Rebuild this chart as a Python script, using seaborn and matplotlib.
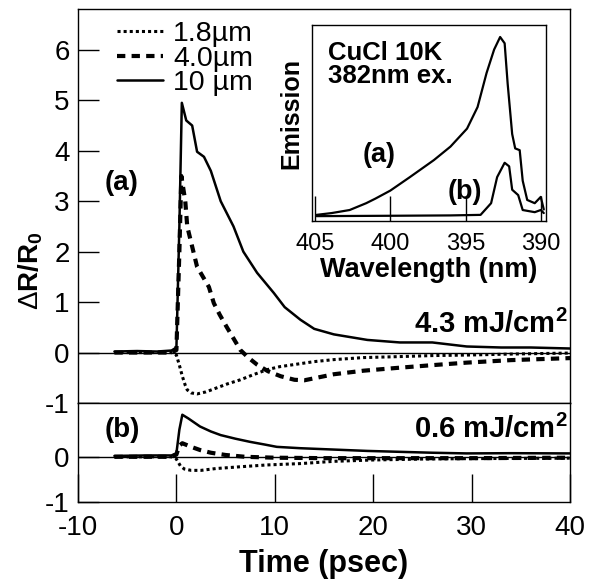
import matplotlib
matplotlib.use("Agg")
import matplotlib.pyplot as plt
import seaborn as sns

sns.set_theme(style="white")
plt.rcParams.update({
    'font.family': ['Liberation Sans', 'DejaVu Sans'],
    'mathtext.fontset': 'custom',
    'mathtext.rm': 'Liberation Sans',
    'mathtext.bf': 'Liberation Sans:bold',
    'axes.unicode_minus': False,
    'axes.edgecolor': 'black',
    'axes.labelcolor': 'black',
    'axes.linewidth': 1.0,
    'xtick.color': 'black',
    'ytick.color': 'black',
    'xtick.bottom': True,
    'ytick.left': True,
    'xtick.direction': 'in',
    'ytick.direction': 'in',
    'xtick.major.size': 15,
    'ytick.major.size': 15,
    'xtick.major.width': 1.0,
    'ytick.major.width': 1.0,
    'text.color': 'black',
})

# ---- panel (a): 4.3 mJ/cm2 ----
t_a_10 = [-6.3, -4, -2, -0.5, 0.0, 0.3, 0.55, 1.0, 1.3, 1.6, 2.1, 2.8, 3.5, 4.5, 5.8, 6.8, 8.2, 9.9,
          11.0, 12.6, 14.0, 16.0, 19.4, 22.7, 26.0, 29.5, 33.0, 36.0, 40.0]
y_a_10 = [0.02, 0.03, 0.02, 0.04, 0.1, 2.5, 4.95, 4.6, 4.55, 4.5, 3.98, 3.88, 3.6, 3.0, 2.5, 2.0, 1.58, 1.18,
          0.9, 0.65, 0.47, 0.36, 0.25, 0.2, 0.2, 0.12, 0.1, 0.1, 0.08]

t_a_40 = [-6.3, -3, -0.5, 0.0, 0.3, 0.5, 0.9, 1.1, 1.6, 2.1, 2.7, 3.3, 3.8, 4.4, 5.1, 5.8, 6.5, 7.3, 8.2,
          9.3, 10.6, 12.0, 13.0, 16.0, 19.0, 22.7, 26.0, 29.5, 34.0, 40.0]
y_a_40 = [0.0, 0.0, 0.0, 0.05, 2.0, 3.5, 3.0, 2.5, 2.1, 1.7, 1.5, 1.3, 0.98, 0.75, 0.51, 0.28, 0.05, -0.1, -0.24,
          -0.37, -0.47, -0.54, -0.55, -0.43, -0.36, -0.3, -0.25, -0.2, -0.15, -0.11]

t_a_18 = [-6.3, -3, -0.5, 0.0, 0.3, 0.6, 0.9, 1.1, 1.5, 2.1, 3.0, 4.1, 5.2, 6.5, 7.8, 9.2, 10.5, 11.9,
          14.0, 16.0, 19.0, 22.7, 26.0, 29.5, 34.0, 40.0]
y_a_18 = [0.0, 0.0, 0.0, -0.05, -0.25, -0.47, -0.65, -0.74, -0.8, -0.82, -0.78, -0.7, -0.62, -0.54, -0.44,
          -0.34, -0.28, -0.24, -0.18, -0.14, -0.1, -0.08, -0.06, -0.05, -0.03, -0.01]

# ---- panel (b): 0.6 mJ/cm2 ----
t_b_10 = [-6.3, -3, -0.5, 0.0, 0.3, 0.6, 1.2, 2.4, 3.5, 4.5, 6.0, 7.5, 9.0, 10.2, 12.6, 16.0, 19.4, 22.7,
          26.0, 29.5, 34.0, 40.0]
y_b_10 = [0.02, 0.03, 0.03, 0.08, 0.6, 0.93, 0.85, 0.67, 0.56, 0.48, 0.4, 0.33, 0.27, 0.22, 0.19, 0.16, 0.13,
          0.11, 0.09, 0.075, 0.08, 0.075]

t_b_40 = [-6.3, -3, -0.5, 0.0, 0.3, 0.6, 1.5, 2.4, 3.5, 5.0, 7.0, 10.0, 15.0, 20.0, 30.0, 40.0]
y_b_40 = [0.0, 0.0, 0.0, 0.05, 0.25, 0.3, 0.22, 0.15, 0.09, 0.04, 0.0, -0.02, -0.03, -0.03, -0.03, -0.02]

t_b_18 = [-6.3, -3, -0.5, 0.0, 0.4, 0.8, 1.5, 2.5, 4.0, 6.5, 9.2, 12.6, 16.0, 20.0, 25.0, 30.0, 40.0]
y_b_18 = [0.0, 0.0, 0.0, -0.05, -0.2, -0.27, -0.3, -0.3, -0.26, -0.22, -0.18, -0.15, -0.1, -0.07, -0.05,
          -0.04, -0.03]

# ---- inset emission spectra ----
wl_a = [404.9, 403.9, 402.7, 401.6, 401.0, 400.0, 398.7, 397.1, 396.0, 394.9, 394.2, 393.6, 393.1, 392.7,
        392.4, 392.2, 391.9, 391.7, 391.4, 391.2, 390.9, 390.4, 390.0, 389.8]
em_a = [0.01, 0.02, 0.037, 0.075, 0.1, 0.145, 0.22, 0.315, 0.39, 0.49, 0.61, 0.80, 0.93, 1.0,
        0.965, 0.74, 0.46, 0.38, 0.37, 0.20, 0.093, 0.075, 0.11, 0.04]
wl_b = [404.9, 400.0, 396.0, 394.0, 393.3, 392.9, 392.4, 392.1, 391.9, 391.5, 391.2, 390.4, 390.0, 389.8]
em_b = [0.003, 0.005, 0.007, 0.01, 0.075, 0.22, 0.30, 0.28, 0.15, 0.12, 0.037, 0.025, 0.037, 0.02]

labels = ["1.8\u00b5m", "4.0\u00b5m", "10 \u00b5m"]
dot = (0, (1, 1))
dash = (0, (2, 1.5))

fig = plt.figure(figsize=(5.95, 5.86), dpi=100)
ax1 = fig.add_axes([0.1311, 0.3123, 0.827, 0.6715])
ax2 = fig.add_axes([0.1311, 0.1433, 0.827, 0.1690])

sns.lineplot(x=t_a_18, y=y_a_18, ax=ax1, color='black', lw=2.2, linestyle=dot, label=labels[0])
sns.lineplot(x=t_a_40, y=y_a_40, ax=ax1, color='black', lw=3.0, linestyle=dash, label=labels[1])
sns.lineplot(x=t_a_10, y=y_a_10, ax=ax1, color='black', lw=1.8, label=labels[2])

sns.lineplot(x=t_b_18, y=y_b_18, ax=ax2, color='black', lw=2.2, linestyle=dot)
sns.lineplot(x=t_b_40, y=y_b_40, ax=ax2, color='black', lw=3.0, linestyle=dash)
sns.lineplot(x=t_b_10, y=y_b_10, ax=ax2, color='black', lw=1.8)

for ax in (ax1, ax2):
    ax.axhline(0, color='black', lw=1.0, zorder=1)
    ax.set_xlim(-10, 40)
    ax.tick_params(axis='both', which='major', direction='in', length=15, width=1, labelsize=20,
                   pad=6, colors='black', left=True, bottom=True, right=False, top=False)
    for s in ax.spines.values():
        s.set_color('black')

ax1.set_ylim(-1, 6.8)
ax1.set_yticks([-1, 0, 1, 2, 3, 4, 5, 6])
ax1.set_xticks([])
ax2.set_ylim(-1, 1.19)
ax2.set_yticks([-1, 0])
ax2.set_xticks([-10, 0, 10, 20, 30, 40])
ax2.tick_params(axis='x', pad=9, length=20)
ax1.set_xlabel('')
ax2.set_xlabel('Time (psec)', fontsize=22, fontweight='bold', labelpad=6)

ax1.legend(loc='upper left', bbox_to_anchor=(0.08, 0.97), frameon=False, fontsize=20.5,
           handlelength=1.6, handletextpad=0.35, labelspacing=-0.05, borderaxespad=0, borderpad=0)

ax1.text(0.055, 0.559, '(a)', transform=ax1.transAxes, fontsize=20, fontweight='bold', va='center')
ax2.text(0.055, 0.73, '(b)', transform=ax2.transAxes, fontsize=20, fontweight='bold', va='center')
ax1.text(0.995, 0.2, r'4.3 mJ/cm$^\mathbf{2}$', transform=ax1.transAxes, fontsize=21,
         fontweight='bold', ha='right', va='center')
ax2.text(0.995, 0.73, r'0.6 mJ/cm$^\mathbf{2}$', transform=ax2.transAxes, fontsize=21,
         fontweight='bold', ha='right', va='center')

fig.text(0.052, 0.538, r'$\Delta$R/R$_\mathbf{0}$', rotation=90, fontsize=20, fontweight='bold',
         ha='center', va='center')

# inset
axi = fig.add_axes([0.5244, 0.6229, 0.3933, 0.3345])
sns.lineplot(x=wl_a, y=em_a, ax=axi, color='black', lw=1.6, sort=False)
sns.lineplot(x=wl_b, y=em_b, ax=axi, color='black', lw=1.6, sort=False)
axi.set_xlim(405.2, 389.65)
axi.set_ylim(-0.024, 1.067)
axi.set_yticks([])
axi.set_xticks([405, 400, 395, 390])
axi.tick_params(axis='x', direction='in', length=18, width=1, labelsize=17, pad=9, colors='black',
                bottom=True, top=False)
axi.tick_params(axis='y', left=False, right=False)
for s in axi.spines.values():
    s.set_color('black')
axi.set_xlabel('Wavelength (nm)', fontsize=19.5, fontweight='bold', labelpad=1)
axi.set_ylabel('Emission', fontsize=18, fontweight='bold')
axi.yaxis.set_label_coords(-0.038, 0.55)
axi.text(0.068, 0.92, 'CuCl 10K\n382nm ex.', transform=axi.transAxes, fontsize=18.5,
         fontweight='bold', va='top', linespacing=0.95)
axi.text(0.218, 0.337, '(a)', transform=axi.transAxes, fontsize=19.5, fontweight='bold', va='center')
axi.text(0.58, 0.148, '(b)', transform=axi.transAxes, fontsize=19.5, fontweight='bold', va='center')

fig.savefig('out.png', dpi=100)
